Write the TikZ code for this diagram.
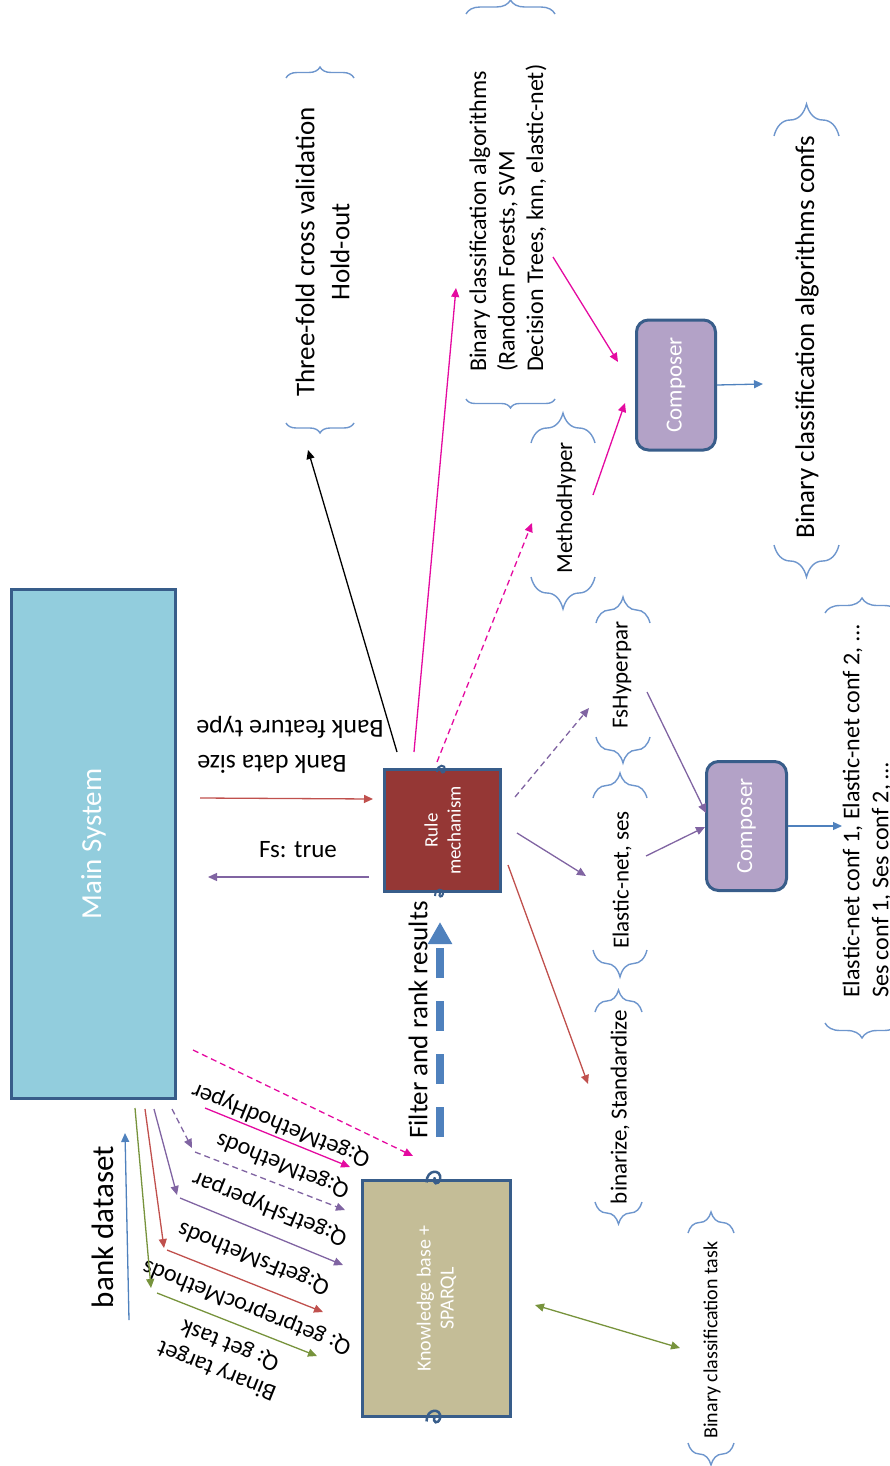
\documentclass[tikz,border=0pt]{standalone}
\usepackage{fontspec}
\setmainfont{Carlito}
\usetikzlibrary{arrows.meta,decorations.pathreplacing}
\tikzset {>={Triangle[length=9pt,width=8pt]}}

\definecolor{sysblue}{RGB}{146,205,221}
\definecolor{edgeblue}{RGB}{56,93,138}
\definecolor{rulered}{RGB}{149,55,53}
\definecolor{kbtan}{RGB}{196,189,151}
\definecolor{complil}{RGB}{179,162,199}
\definecolor{arrred}{RGB}{192,80,77}
\definecolor{arrpurple}{RGB}{128,100,162}
\definecolor{arrmag}{RGB}{228,10,160}
\definecolor{arrblue}{RGB}{79,129,189}
\definecolor{arrgreen}{RGB}{119,147,60}
\definecolor{bracecol}{RGB}{110,150,205}

\tikzset{
  box/.style={draw=edgeblue, line width=3pt, text=white, rotate=90,
    inner sep=0pt, align=center},
  vlabel/.style={rotate=90, inner sep=0pt, align=center},
  qlabel/.style={rotate=158, inner sep=0pt, font=\fontsize{24}{28}\selectfont},
  curly/.style={decorate, decoration={brace, amplitude=#1},
    draw=bracecol, line width=1.4pt},
  conn/.style={->, line width=1.3pt},
  dashy/.style={dash pattern=on 6pt off 4pt}
}

\begin{document}
\begin{tikzpicture}[x=1pt,y=-1pt]
\useasboundingbox (0,0) rectangle (890,1466);
\clip (0,0) rectangle (890,1466);

% boxes
\node[box, fill=sysblue, minimum width=509pt, minimum height=164pt,
  font=\fontsize{29}{35}\selectfont] (main) at (93.5,844) {Main System};
\node[box, fill=rulered, minimum width=122pt, minimum height=116pt,
  font=\fontsize{19}{23}\selectfont] (rule) at (442.5,830.5) {Rule\\mechanism};
\node[box, fill=kbtan, minimum width=236pt, minimum height=148pt,
  font=\fontsize{20}{23}\selectfont] (kb) at (436.5,1298.5) {Knowledge base +\\SPARQL};
\node[box, fill=complil, rounded corners=12pt, minimum width=130pt,
  minimum height=79pt, font=\fontsize{23}{27}\selectfont] (comp1) at (676,385) {Composer};
\node[box, fill=complil, rounded corners=12pt, minimum width=129pt,
  minimum height=80pt, font=\fontsize{23}{27}\selectfont] (comp2) at (746.5,826) {Composer};

% little jump marks on the box edges
\foreach \p in {(442,770),(440,894)}
  \draw[edgeblue, line width=2pt, shift={\p}]
    (-5,2) .. controls (-5,-6) and (4,-6) .. (3,0) .. controls (2,4) and (-2,3) .. (0,-1);
\foreach \p in {(435,1179),(435,1418)}
  \draw[edgeblue, line width=2.5pt, shift={\p}, scale=1.7]
    (-5,2) .. controls (-5,-6) and (4,-6) .. (3,0) .. controls (2,4) and (-2,3) .. (0,-1);

% texts
\node[rotate=180, inner sep=0pt, font=\fontsize{26}{31}\selectfont] (featlbl) at (290,727) {Bank feature type};
\node[rotate=180, inner sep=0pt, font=\fontsize{26}{31}\selectfont] (sizelbl) at (272,764) {Bank data size};
\node[inner sep=0pt, font=\fontsize{25}{30}\selectfont] (fslbl) at (298,850) {Fs: true};

\node[vlabel, font=\fontsize{27}{35}\selectfont] (cvlbl) at (322.5,252)
  {Three-fold cross validation\\Hold-out};
\node[vlabel, align=left, anchor=west, font=\fontsize{24}{28.5}\selectfont] (algolbl) at (508,372)
  {Binary classification algorithms\\(Random Forests, SVM\\Decision Trees, knn, elastic-net)};
\node[vlabel, font=\fontsize{23}{28}\selectfont] (mhlbl) at (566,508) {MethodHyper};
\node[vlabel, font=\fontsize{27}{32}\selectfont] (conflbl) at (807,337) {Binary classification algorithms confs};
\node[vlabel, font=\fontsize{23}{28}\selectfont] (fhlbl) at (622,675) {FsHyperpar};
\node[vlabel, font=\fontsize{23}{28}\selectfont] (fmlbl) at (622,880) {Elastic-net, ses};
\node[vlabel, font=\fontsize{23}{28}\selectfont] (pplbl) at (620,1107) {binarize, Standardize};
\node[vlabel, align=left, anchor=west, font=\fontsize{24}{29}\selectfont] (enlbl) at (867,998)
  {Elastic-net conf 1, Elastic-net conf 2, …\\Ses conf 1, Ses conf 2, …};
\node[vlabel, font=\fontsize{20}{24}\selectfont] (tasklbl) at (712,1340) {Binary classification task};
\node[vlabel, font=\fontsize{27}{32}\selectfont] (frlbl) at (418,1020) {Filter and rank results};
\node[vlabel, font=\fontsize{31}{36}\selectfont] (dslbl) at (103,1227) {bank dataset};

\node[qlabel] (q1lbl) at (281,1125) {Q:getMethodHyper};
\node[qlabel] (q2lbl) at (283,1165) {Q:getMethods};
\node[qlabel] (q3lbl) at (270,1208) {Q:getFsHyperpar};
\node[qlabel] (q4lbl) at (254,1258) {Q:getFsMethods};
\node[qlabel] (q5lbl) at (247,1307) {Q: getpreprocMethods};
\node[qlabel] (q6lbl) at (230,1345) {Q: get task};
\node[qlabel] (q7lbl) at (217,1370) {Binary target};

% braces
\draw[curly=11pt] (286,78) -- (354,78);
\draw[curly=10pt] (354,423) -- (286,423);
\draw[curly=14pt] (466,14) -- (555,14);
\draw[curly=9pt] (555,399) -- (466,399);
\draw[curly=30pt] (531,443) -- (595,443);
\draw[curly=32pt] (595,577) -- (531,577);
\draw[curly=32pt] (774,136) -- (839,136);
\draw[curly=32pt] (839,545) -- (774,545);
\draw[curly=26pt] (596,623) -- (650,623);
\draw[curly=26pt] (650,737) -- (596,737);
\draw[curly=25pt] (593,798) -- (647,798);
\draw[curly=27pt] (647,950) -- (593,950);
\draw[curly=22pt] (595,1012) -- (642,1012);
\draw[curly=22pt] (642,1202) -- (595,1202);
\draw[curly=15pt] (825,613) -- (899,613);
\draw[curly=15pt] (899,1023) -- (825,1023);
\draw[curly=21pt] (688,1233) -- (734,1233);
\draw[curly=22pt] (734,1443) -- (688,1443);

% main <-> rule
\coordinate (szA) at (200,798);
\coordinate (szB) at (373,799);
\coordinate (fsA) at (369,877);
\coordinate (fsB) at (208,877);
\draw[conn, arrred] (szA) -- (szB);
\draw[conn, arrpurple] (fsA) -- (fsB);

% rule -> parameters
\coordinate (cvA) at (397,752);
\coordinate (cvB) at (308,450);
\coordinate (alA) at (414,752);
\coordinate (alB) at (456,288);
\coordinate (mhA) at (437,762);
\coordinate (mhB) at (532,523);
\coordinate (fhA) at (515,797);
\coordinate (fhB) at (589,708);
\coordinate (fmA) at (517,833);
\coordinate (fmB) at (586,876);
\coordinate (ppA) at (508,865);
\coordinate (ppB) at (588,1084);
\draw[conn, black] (cvA) -- (cvB);
\draw[conn, arrmag] (alA) -- (alB);
\draw[conn, arrmag, dashy] (mhA) -- (mhB);
\draw[conn, arrpurple, dashy] (fhA) -- (fhB);
\draw[conn, arrpurple] (fmA) -- (fmB);
\draw[conn, arrred] (ppA) -- (ppB);

% composers
\coordinate (c1A) at (553,257);
\coordinate (c1B) at (618,362);
\coordinate (c1C) at (593,495);
\coordinate (c1D) at (625,403);
\coordinate (c1E) at (763,384);
\coordinate (c2A) at (647,692);
\coordinate (c2B) at (706,813);
\coordinate (c2C) at (646,856);
\coordinate (c2D) at (705,827);
\coordinate (c2E) at (842,826);
\draw[conn, arrmag] (c1A) -- (c1B);
\draw[conn, arrmag] (c1C) -- (c1D);
\draw[conn, arrblue] (comp1.south) -- (c1E);
\draw[conn, arrpurple] (c2A) -- (c2B);
\draw[conn, arrpurple] (c2C) -- (c2D);
\draw[conn, arrblue] (comp2.south) -- (c2E);

% filter and rank
\coordinate (frA) at (440,1137);
\coordinate (frB) at (440,922);
\draw[-{Triangle[length=22pt,width=23pt]}, arrblue, line width=8pt,
  dash pattern=on 30pt off 23pt] (frA) -- (frB);

% queries to the knowledge base
\coordinate (q0a) at (193,1050);
\coordinate (q0b) at (413,1156);
\coordinate (q1a) at (205,1108);
\coordinate (q1b) at (350,1167);
\coordinate (q2a) at (172,1109);
\coordinate (q2b) at (192,1148);
\coordinate (q2c) at (195,1152);
\coordinate (q2d) at (345,1210);
\coordinate (q3a) at (154,1109);
\coordinate (q3b) at (177,1195);
\coordinate (q3c) at (180,1198);
\coordinate (q3d) at (343,1265);
\coordinate (q4a) at (145,1109);
\coordinate (q4b) at (164,1248);
\coordinate (q4c) at (167,1250);
\coordinate (q4d) at (323,1312);
\coordinate (q5a) at (135,1108);
\coordinate (q5b) at (151,1288);
\coordinate (q5c) at (157,1293);
\coordinate (q5d) at (317,1356);
\coordinate (dsA) at (129,1320);
\coordinate (dsB) at (125,1133);
\draw[conn, arrmag, dashy] (q0a) -- (q0b);
\draw[conn, arrmag] (q1a) -- (q1b);
\draw[conn, arrpurple, dashy] (q2a) -- (q2b);
\draw[conn, arrpurple, dashy] (q2c) -- (q2d);
\draw[conn, arrpurple] (q3a) -- (q3b);
\draw[conn, arrpurple] (q3c) -- (q3d);
\draw[conn, arrred] (q4a) -- (q4b);
\draw[conn, arrred] (q4c) -- (q4d);
\draw[conn, arrgreen] (q5a) -- (q5b);
\draw[conn, arrgreen] (q5c) -- (q5d);
\draw[conn, arrblue] (dsA) -- (dsB);

% task
\coordinate (tkA) at (535,1305);
\coordinate (tkB) at (680,1348);
\draw[<->, line width=1.3pt, arrgreen] (tkA) -- (tkB);

\end{tikzpicture}
\end{document}
